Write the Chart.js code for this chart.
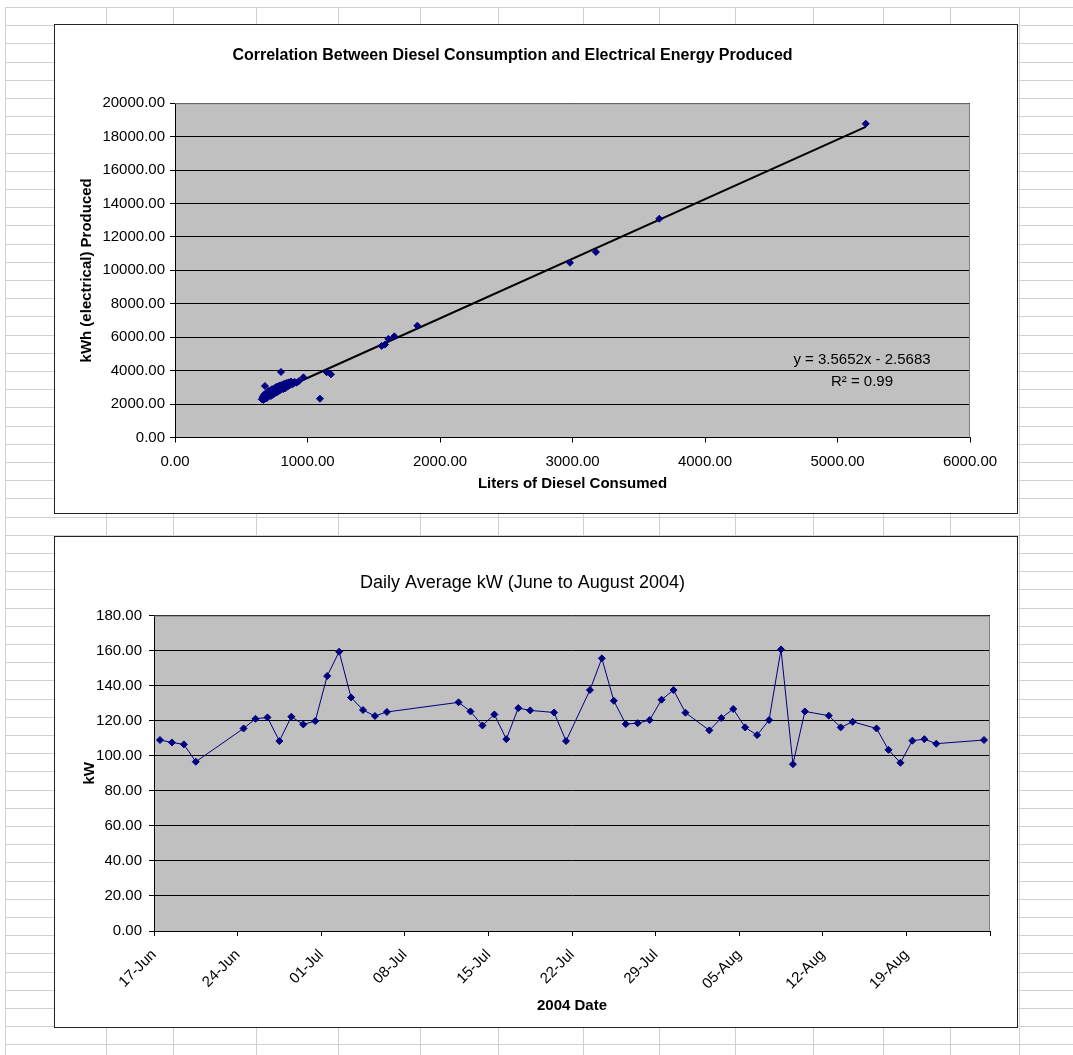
<!DOCTYPE html>
<html>
<head>
<meta charset="utf-8">
<title>Diesel consumption and daily average kW</title>
<script src="https://cdn.jsdelivr.net/npm/chart.js@4.4.0/dist/chart.umd.min.js"></script>
<style>
  html, body { margin: 0; padding: 0; background: #fff; }
  body { width: 1073px; height: 1055px; position: relative; overflow: hidden; }
  #sheet {
    position: absolute; left: 5px; top: 7px; right: 0; bottom: 0;
    border-left: 1px solid #d0d0d0;
    background-image: repeating-linear-gradient(to bottom, #d0d0d0 0, #d0d0d0 1px, transparent 1px, transparent 18.2px);
  }
  .col { position: absolute; top: 0; bottom: 0; width: 1px; background: #d0d0d0; }
  .frame { position: absolute; background: #fff; border: 1px solid #222; }
  .frame canvas { display: block; }
</style>
</head>
<body>
<div id="sheet"></div>
<div class="frame" style="left:54px; top:24px; width:962px; height:488px;">
  <canvas id="dieselChart" width="962" height="488"></canvas>
</div>
<div class="frame" style="left:54px; top:536px; width:962px; height:490px;">
  <canvas id="kwChart" width="962" height="490"></canvas>
</div>
<script>
// scatter: liters of diesel vs kWh produced
const dieselLiters = [
    655, 662, 668, 672, 680, 686, 690, 697, 702, 708, 712, 718, 724, 730, 735, 741, 746, 752, 758, 763,
    769, 775, 781, 786, 792, 798, 804, 812, 818, 826, 834, 842, 850, 858, 866, 876, 888, 902, 918, 936,
    679, 800, 969, 1094, 1145, 1177, 1560, 1585, 1610, 1655, 1829, 2981, 3177, 3655, 5213
];
const kwhProduced = [
    2290, 2420, 2250, 2560, 2380, 2640, 2330, 2700, 2450, 2800, 2500, 2760, 2480, 2880, 2560, 2900, 2600, 2950, 2680, 3020,
    2700, 3050, 2760, 3100, 2820, 3120, 2880, 3170, 2900, 3230, 2950, 3260, 3050, 3300, 3120, 3350, 3180, 3330, 3280, 3380,
    3080, 3920, 3600, 2320, 3900, 3780, 5480, 5560, 5900, 6050, 6690, 10458, 11098, 13090, 18774
];
const trendSlope = 3.5652;
const trendIntercept = -2.5683;
const trendLabel = 'y = 3.5652x - 2.5683';
const r2Label = 'R\u00b2 = 0.99';

// daily average kW
const dayDates = [
    '2004-06-17', '2004-06-18', '2004-06-19', '2004-06-20', '2004-06-24', '2004-06-25', '2004-06-26', '2004-06-27',
    '2004-06-28', '2004-06-29', '2004-06-30', '2004-07-01', '2004-07-02', '2004-07-03', '2004-07-04', '2004-07-05',
    '2004-07-06', '2004-07-12', '2004-07-13', '2004-07-14', '2004-07-15', '2004-07-16', '2004-07-17', '2004-07-18',
    '2004-07-20', '2004-07-21', '2004-07-23', '2004-07-24', '2004-07-25', '2004-07-26', '2004-07-27', '2004-07-28',
    '2004-07-29', '2004-07-30', '2004-07-31', '2004-08-02', '2004-08-03', '2004-08-04', '2004-08-05', '2004-08-06',
    '2004-08-07', '2004-08-08', '2004-08-09', '2004-08-10', '2004-08-12', '2004-08-13', '2004-08-14', '2004-08-16',
    '2004-08-17', '2004-08-18', '2004-08-19', '2004-08-20', '2004-08-21', '2004-08-25'
];
const dailyKw = [
    109.0, 107.6, 106.5, 96.6, 115.6, 121.1, 121.9, 108.4,
    122.3, 117.9, 119.8, 145.5, 159.4, 133.3, 126.1, 122.7,
    125.0, 130.5, 125.3, 117.3, 123.6, 109.5, 127.2, 125.9,
    124.7, 108.4, 137.5, 155.6, 131.4, 118.1, 118.6, 120.4,
    132.0, 137.5, 124.6, 114.5, 121.5, 126.7, 116.2, 111.8,
    120.4, 160.7, 95.2, 125.3, 122.9, 116.2, 119.4, 115.6,
    103.4, 96.0, 108.6, 109.5, 106.9, 109.0
];
const axisStartDate = '2004-06-17';
const dateTickLabels = ['17-Jun', '24-Jun', '01-Jul', '08-Jul', '15-Jul', '22-Jul', '29-Jul', '05-Aug', '12-Aug', '19-Aug'];

// spreadsheet column lines behind the charts
const sheetColumns = [100, 167, 250, 332, 414, 492, 577, 653, 729, 807, 877, 944, 1013];
const sheet = document.getElementById('sheet');
sheetColumns.forEach(x => {
    const d = document.createElement('div');
    d.className = 'col';
    d.style.left = x + 'px';
    sheet.appendChild(d);
});

Chart.defaults.font.family = '"Liberation Sans", Arial, sans-serif';
Chart.defaults.color = '#000';
Chart.defaults.animation = false;

const plotBackground = {
    id: 'plotBackground',
    beforeDraw(chart) {
        const { ctx, chartArea: a } = chart;
        ctx.save();
        ctx.fillStyle = '#c0c0c0';
        ctx.fillRect(a.left, a.top, a.width, a.height);
        ctx.restore();
    },
    beforeDatasetsDraw(chart) {
        const { ctx, chartArea: a } = chart;
        ctx.save();
        ctx.strokeStyle = '#808080';
        ctx.lineWidth = 1;
        ctx.beginPath();
        ctx.moveTo(a.left, a.top + 0.5);
        ctx.lineTo(a.right - 0.5, a.top + 0.5);
        ctx.lineTo(a.right - 0.5, a.bottom);
        ctx.stroke();
        ctx.restore();
    }
};

const trendText = {
    id: 'trendText',
    afterDraw(chart) {
        const { ctx } = chart;
        ctx.save();
        ctx.font = '15px "Liberation Sans", Arial, sans-serif';
        ctx.fillStyle = '#000';
        ctx.textAlign = 'center';
        ctx.textBaseline = 'middle';
        ctx.fillText(trendLabel, 807, 335);
        ctx.fillText(r2Label, 807, 357);
        ctx.restore();
    }
};

const twoDecimals = v => Number(v).toFixed(2);

// 1. Correlation scatter
const points = dieselLiters.map((x, i) => ({ x: x, y: kwhProduced[i] }));
const minX = Math.min(...dieselLiters);
const maxX = Math.max(...dieselLiters);
const trend = [minX, maxX].map(x => ({ x: x, y: trendSlope * x + trendIntercept }));

new Chart(document.getElementById('dieselChart'), {
    type: 'scatter',
    data: {
        datasets: [{
            data: points,
            pointStyle: 'rectRot',
            pointRadius: 3.5,
            borderWidth: 1,
            backgroundColor: '#000080',
            borderColor: '#000080'
        }, {
            data: trend,
            showLine: true,
            pointRadius: 0,
            borderColor: '#000',
            borderWidth: 2
        }]
    },
    options: {
        responsive: false,
        devicePixelRatio: 1,
        layout: { padding: { left: 0, right: 47, top: 0, bottom: 0 } },
        plugins: {
            legend: { display: false },
            tooltip: { enabled: false },
            title: {
                display: true,
                text: 'Correlation Between Diesel Consumption and Electrical Energy Produced',
                font: { size: 16, weight: 'bold' },
                padding: { top: 21, bottom: 38 }
            }
        },
        scales: {
            x: {
                type: 'linear',
                min: 0, max: 6000,
                afterFit: s => { s.height = 75.5; },
                ticks: { stepSize: 1000, callback: twoDecimals, font: { size: 15 }, padding: 10, maxRotation: 0 },
                grid: { drawOnChartArea: false, color: '#000', tickLength: 5 },
                border: { color: '#000' },
                title: {
                    display: true, text: 'Liters of Diesel Consumed',
                    font: { size: 15, weight: 'bold' }, padding: { top: 0, bottom: 20 }
                }
            },
            y: {
                min: 0, max: 20000,
                afterFit: s => { s.width = 120; },
                ticks: { stepSize: 2000, callback: twoDecimals, font: { size: 15 }, padding: 5 },
                grid: { color: '#000', tickLength: 5 },
                border: { color: '#000' },
                title: {
                    display: true, text: 'kWh (electrical) Produced',
                    font: { size: 15, weight: 'bold' }, padding: { top: 23, bottom: 0 }
                }
            }
        }
    },
    plugins: [plotBackground, trendText]
});

// 2. Daily average kW
const startMs = Date.parse(axisStartDate);
const kwPoints = dayDates.map((d, i) => ({
    x: (Date.parse(d) - startMs) / 86400000 + 0.5,
    y: dailyKw[i]
}));

new Chart(document.getElementById('kwChart'), {
    type: 'line',
    data: {
        datasets: [{
            data: kwPoints,
            borderColor: '#000080',
            borderWidth: 1,
            tension: 0,
            pointStyle: 'rectRot',
            pointRadius: 3.5,
            pointBorderWidth: 1,
            pointBackgroundColor: '#000080',
            pointBorderColor: '#000080'
        }]
    },
    options: {
        responsive: false,
        devicePixelRatio: 1,
        layout: { padding: { left: 0, right: 27, top: 0, bottom: 0 } },
        plugins: {
            legend: { display: false },
            tooltip: { enabled: false },
            title: {
                display: true,
                text: 'Daily Average kW (June to August 2004)',
                font: { size: 18, weight: 'normal' },
                padding: { top: 35, bottom: 22 }
            }
        },
        scales: {
            x: {
                type: 'linear',
                min: 0, max: 70,
                afterFit: s => { s.height = 96; },
                ticks: {
                    stepSize: 7,
                    autoSkip: false,
                    minRotation: 45, maxRotation: 45,
                    font: { size: 15 },
                    padding: 10,
                    callback: v => dateTickLabels[v / 7] || ''
                },
                grid: { drawOnChartArea: false, color: '#000', tickLength: 5 },
                border: { color: '#000' },
                title: {
                    display: true, text: '2004 Date',
                    font: { size: 15, weight: 'bold' }, padding: { top: 0, bottom: 12 }
                }
            },
            y: {
                min: 0, max: 180,
                afterFit: s => { s.width = 99; },
                ticks: { stepSize: 20, callback: twoDecimals, font: { size: 15 }, padding: 7 },
                grid: { color: '#000', tickLength: 5 },
                border: { color: '#000' },
                title: {
                    display: true, text: 'kW',
                    font: { size: 15, weight: 'bold' }, padding: { top: 26, bottom: 0 }
                }
            }
        }
    },
    plugins: [plotBackground]
});
</script>
</body>
</html>
